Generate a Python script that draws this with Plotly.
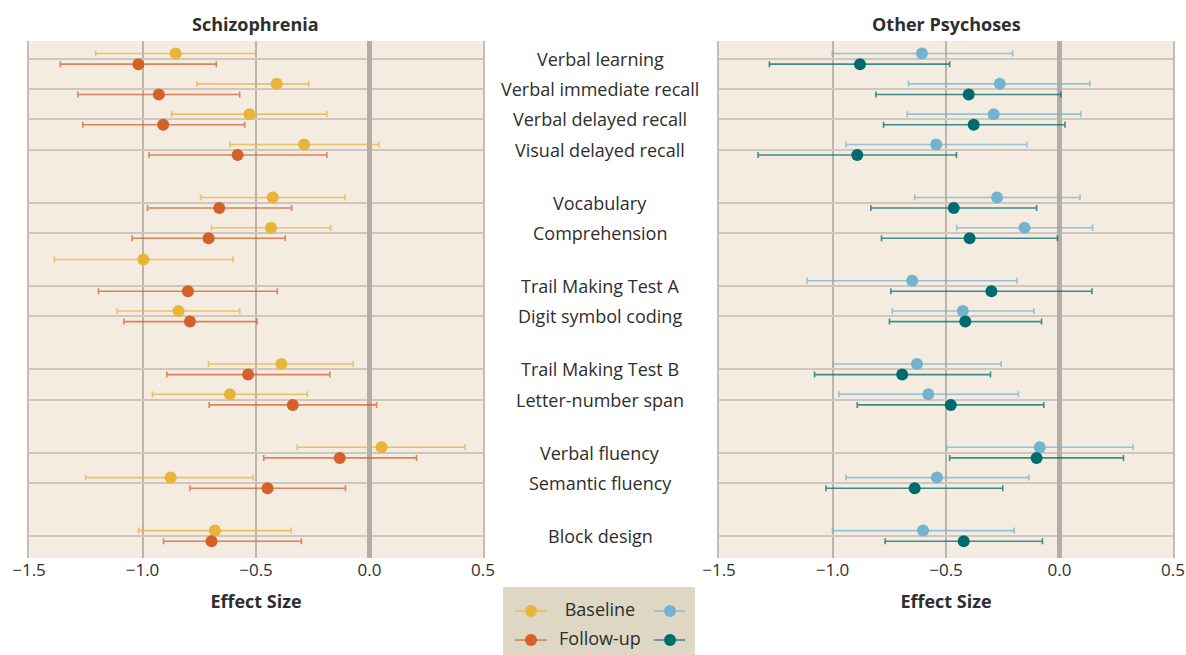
import plotly.graph_objects as go

# ---------------- data ----------------
tests = ["Verbal learning", "Verbal immediate recall", "Verbal delayed recall",
         "Visual delayed recall", "Vocabulary", "Comprehension",
         "Trail Making Test A", "Digit symbol coding", "Trail Making Test B",
         "Letter-number span", "Verbal fluency", "Semantic fluency", "Block design"]
# row positions (groups separated by gaps)
rows = [0, 1, 2, 3, 4.75, 5.75, 7.5, 8.5, 10.25, 11.25, 13, 14, 15.75]

# Schizophrenia
scz_base = [-0.854, -0.409, -0.529, -0.288, -0.426, -0.434, -0.996, -0.841, -0.388, -0.615, 0.053, -0.876, -0.681]
scz_base_lo = [-1.206, -0.760, -0.872, -0.615, -0.744, -0.696, -1.388, -1.112, -0.709, -0.956, -0.318, -1.250, -1.018]
scz_base_hi = [-0.503, -0.268, -0.188, 0.041, -0.109, -0.171, -0.601, -0.572, -0.072, -0.274, 0.421, -0.513, -0.346]
scz_fu = [-1.018, -0.928, -0.909, -0.581, -0.662, -0.709, -0.800, -0.791, -0.535, -0.338, -0.131, -0.449, -0.696]
scz_fu_lo = [-1.362, -1.285, -1.263, -0.971, -0.978, -1.046, -1.194, -1.082, -0.893, -0.706, -0.466, -0.791, -0.907]
scz_fu_hi = [-0.675, -0.572, -0.550, -0.188, -0.343, -0.371, -0.406, -0.496, -0.175, 0.031, 0.207, -0.106, -0.300]

# Other psychoses
oth_base = [-0.606, -0.263, -0.290, -0.543, -0.275, -0.154, -0.649, -0.426, -0.628, -0.578, -0.087, -0.540, -0.601]
oth_base_lo = [-1.001, -0.665, -0.671, -0.940, -0.638, -0.453, -1.112, -0.737, -0.997, -0.972, -0.497, -0.941, -1.000]
oth_base_hi = [-0.206, 0.134, 0.094, -0.144, 0.090, 0.146, -0.187, -0.113, -0.257, -0.181, 0.324, -0.135, -0.200]
oth_fu = [-0.879, -0.400, -0.378, -0.891, -0.466, -0.396, -0.300, -0.415, -0.693, -0.479, -0.101, -0.638, -0.422]
oth_fu_lo = [-1.278, -0.809, -0.775, -1.328, -0.831, -0.784, -0.743, -0.749, -1.079, -0.891, -0.484, -1.029, -0.768]
oth_fu_hi = [-0.484, 0.006, 0.024, -0.454, -0.101, -0.009, 0.143, -0.079, -0.304, -0.069, 0.282, -0.250, -0.075]

x_ticks = [-1.5, -1.0, -0.5, 0.0, 0.5]
x_ticktext = ["\u22121.5", "\u22121.0", "\u22120.5", "0.0", "0.5"]

# ---------------- styling ----------------
FONT = "Open Sans"
BG = "#f4ece0"
GRID = "#cfc6be"
VGRID = "#bdb4ae"
TXT = "#2e2e2e"
C_SB, C_SB_E = "#e8b43a", "rgba(232,180,58,0.75)"
C_SF, C_SF_E = "#d4602a", "rgba(212,96,42,0.75)"
C_OB, C_OB_E = "#74b3cf", "rgba(116,179,207,0.75)"
C_OF, C_OF_E = "#006b6f", "rgba(0,107,111,0.75)"
OFF = 0.175
# special vertical shift for one baseline point in the schizophrenia panel
scz_base_shift = {6: -0.7}

W, H = 1186, 655


def fx(px):
    return px / W


def fy(py):
    return 1 - py / H


fig = go.Figure()


def add_series(xaxis, yaxis, vals, lo, hi, ypos, col, ecol):
    fig.add_trace(go.Scatter(
        x=vals, y=ypos, mode="markers", xaxis=xaxis, yaxis=yaxis,
        marker=dict(size=12, color=col),
        error_x=dict(type="data", symmetric=False,
                     array=[h - v for v, h in zip(vals, hi)],
                     arrayminus=[v - l for v, l in zip(vals, lo)],
                     color=ecol, thickness=1.6, width=3),
        showlegend=False, hoverinfo="x"))


y_sb = [r - OFF + scz_base_shift.get(i, 0) for i, r in enumerate(rows)]
y_b = [r - OFF for r in rows]
y_f = [r + OFF for r in rows]

add_series("x", "y", scz_base, scz_base_lo, scz_base_hi, y_sb, C_SB, C_SB_E)
add_series("x", "y", scz_fu, scz_fu_lo, scz_fu_hi, y_f, C_SF, C_SF_E)
add_series("x2", "y2", oth_base, oth_base_lo, oth_base_hi, y_b, C_OB, C_OB_E)
add_series("x2", "y2", oth_fu, oth_fu_lo, oth_fu_hi, y_f, C_OF, C_OF_E)

# ---------------- custom legend (small axes) ----------------
leg_rows = [0.647, 0.22]
leg_labels = ["Baseline", "Follow-up"]
leg_left = [(C_SB, C_SB_E), (C_SF, C_SF_E)]
leg_right = [(C_OB, C_OB_E), (C_OF, C_OF_E)]
for yy, (c, ce) in zip(leg_rows, leg_left):
    fig.add_trace(go.Scatter(x=[0.0625, 0.229], y=[yy, yy], mode="lines", line=dict(color=ce, width=1.6),
                             xaxis="x3", yaxis="y3", showlegend=False, hoverinfo="skip"))
    fig.add_trace(go.Scatter(x=[0.146], y=[yy], mode="markers", marker=dict(size=12, color=c),
                             xaxis="x3", yaxis="y3", showlegend=False, hoverinfo="skip"))
for yy, (c, ce) in zip(leg_rows, leg_right):
    fig.add_trace(go.Scatter(x=[0.786, 0.948], y=[yy, yy], mode="lines", line=dict(color=ce, width=1.6),
                             xaxis="x3", yaxis="y3", showlegend=False, hoverinfo="skip"))
    fig.add_trace(go.Scatter(x=[0.870], y=[yy], mode="markers", marker=dict(size=12, color=c),
                             xaxis="x3", yaxis="y3", showlegend=False, hoverinfo="skip"))
fig.add_trace(go.Scatter(x=[0.505, 0.505], y=leg_rows, mode="text", text=leg_labels,
                         textfont=dict(family=FONT, size=18, color=TXT),
                         xaxis="x3", yaxis="y3", showlegend=False, hoverinfo="skip"))

top_px, bot_px = 41, 558
ydom = [fy(bot_px), fy(top_px)]
yrange = [16.48, -0.59]

xax = dict(range=[-1.5, 0.5], tickvals=x_ticks, ticktext=x_ticktext, showgrid=True,
           gridcolor=VGRID, gridwidth=1.5, zeroline=True, zerolinecolor="#b5ada8",
           zerolinewidth=5, ticks="", showline=False, automargin=False,
           tickfont=dict(family=FONT, size=17, color=TXT),
           title=dict(text="<b>Effect Size</b>", font=dict(family=FONT, size=18, color=TXT),
                      standoff=15))
yax = dict(range=yrange, tickvals=rows, showticklabels=False, showgrid=True,
           gridcolor=GRID, gridwidth=1.5, zeroline=False, ticks="", showline=True,
           mirror=True, linecolor="#c4bcb6", linewidth=2, automargin=False, domain=ydom)

annotations = []
for t, r in zip(tests, rows):
    annotations.append(dict(text=t, x=fx(600), xref="paper", y=r, yref="y", showarrow=False,
                            xanchor="center", yanchor="middle",
                            font=dict(family=FONT, size=18, color=TXT)))
annotations.append(dict(text="<b>Schizophrenia</b>", x=fx(255), y=fy(24), xref="paper", yref="paper",
                        showarrow=False, xanchor="center", yanchor="middle",
                        font=dict(family=FONT, size=18, color=TXT)))
annotations.append(dict(text="<b>Other Psychoses</b>", x=fx(946), y=fy(24), xref="paper", yref="paper",
                        showarrow=False, xanchor="center", yanchor="middle",
                        font=dict(family=FONT, size=18, color=TXT)))

fig.update_layout(
    width=W, height=H, margin=dict(l=0, r=0, t=0, b=0),
    paper_bgcolor="white", plot_bgcolor=BG,
    xaxis=dict(xax, domain=[fx(29), fx(483)], anchor="y"),
    yaxis=dict(yax, anchor="x"),
    xaxis2=dict(xax, domain=[fx(719), fx(1173)], anchor="y2"),
    yaxis2=dict(yax, anchor="x2"),
    xaxis3=dict(domain=[fx(503), fx(695)], range=[0, 1], visible=False, anchor="y3", fixedrange=True),
    yaxis3=dict(domain=[fy(655), fy(587)], range=[0, 1], visible=False, anchor="x3", fixedrange=True),
    annotations=annotations,
    shapes=[dict(type="rect", xref="x3", yref="y3", x0=0, x1=1, y0=0, y1=1,
                 fillcolor="#ddd7c3", line=dict(width=0), layer="below")],
    showlegend=False,
)

fig.write_html("out.html", config={"displayModeBar": False},
               post_script="document.body.style.margin='0px';document.body.style.overflow='hidden';")
